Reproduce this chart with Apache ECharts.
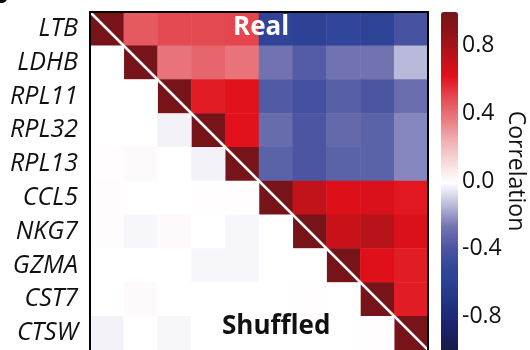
<!DOCTYPE html>
<html>
<head>
<meta charset="utf-8">
<script src="https://cdn.jsdelivr.net/npm/echarts@6/dist/echarts.min.js"></script>
<style>
  html, body { margin: 0; padding: 0; background: #fff; }
  #chart { width: 530px; height: 350px; }
</style>
</head>
<body>
<div id="chart"></div>
<script>
// Gene order (top to bottom, left to right)
const genes = ['LTB', 'LDHB', 'RPL11', 'RPL32', 'RPL13', 'CCL5', 'NKG7', 'GZMA', 'CST7', 'CTSW'];

// Upper triangle: observed correlations, row i holds columns i+1 .. 9
const realCorr = [
  [0.46, 0.50, 0.50, 0.51, -0.52, -0.55, -0.50, -0.54, -0.40],
  [0.39, 0.43, 0.39, -0.26, -0.35, -0.26, -0.26, -0.13],
  [0.60, 0.62, -0.36, -0.42, -0.34, -0.38, -0.28],
  [0.62, -0.29, -0.38, -0.30, -0.33, -0.22],
  [-0.33, -0.38, -0.33, -0.33, -0.22],
  [0.72, 0.64, 0.65, 0.61],
  [0.70, 0.75, 0.65],
  [0.63, 0.60],
  [0.60]
];

// Lower triangle: correlations after shuffling, row i holds columns 0 .. i-1
const shuffledCorr = [
  [],
  [0.00],
  [0.00, 0.00],
  [0.00, 0.00, -0.025],
  [0.005, 0.015, 0.00, -0.025],
  [0.01, 0.00, 0.00, 0.005, 0.005],
  [0.01, -0.015, 0.015, 0.00, -0.015, 0.00],
  [0.00, 0.00, 0.00, -0.015, -0.015, 0.00, 0.00],
  [0.00, 0.015, 0.00, 0.00, 0.00, 0.00, 0.005, 0.00],
  [-0.025, 0.00, -0.015, 0.00, 0.00, 0.00, 0.00, 0.00, 0.005]
];

// Self-correlation on the diagonal
const selfCorr = 1.0;

// Colour bar ticks
const colorTicks = [-0.8, -0.4, 0.0, 0.4, 0.8];

const cells = [];
genes.forEach((g, i) => {
  cells.push([i, i, selfCorr]);
  realCorr[i] && realCorr[i].forEach((v, k) => cells.push([i + 1 + k, i, v]));
  shuffledCorr[i].forEach((v, j) => cells.push([j, i, v]));
});

const n = genes.length;
const font = '"Open Sans", "Noto Sans", sans-serif';

const chart = echarts.init(document.getElementById('chart'), null, { renderer: 'canvas' });
chart.setOption({
  animation: false,
  backgroundColor: '#fff',
  grid: [
    { left: 90, top: 12, width: 338, height: 341, containLabel: false },
    { left: 441, top: 12, width: 17, height: 342, containLabel: false }
  ],
  xAxis: [
    { type: 'category', gridIndex: 0, data: genes, position: 'top', z: 5,
      axisLine: { show: true, lineStyle: { color: '#000', width: 2 } },
      axisTick: { show: false }, axisLabel: { show: false }, splitLine: { show: false } },
    { type: 'value', gridIndex: 0, min: 0, max: n, show: false },
    { type: 'category', gridIndex: 1, data: [''], show: false }
  ],
  yAxis: [
    { type: 'category', gridIndex: 0, data: genes, inverse: true, z: 5,
      axisLine: { show: true, lineStyle: { color: '#000', width: 2 } },
      axisTick: { show: false }, splitLine: { show: false },
      axisLabel: { margin: 12, fontSize: 25, fontStyle: 'italic', color: '#111', fontFamily: font } },
    { type: 'value', gridIndex: 0, min: 0, max: n, inverse: true, position: 'right', z: 5,
      axisLine: { show: true, onZero: false, lineStyle: { color: '#000', width: 2 } },
      axisTick: { show: false }, axisLabel: { show: false }, splitLine: { show: false } },
    { type: 'value', gridIndex: 1, min: -1, max: 1, position: 'right',
      axisLine: { show: false }, axisTick: { show: false }, splitLine: { show: false },
      axisLabel: { margin: 4, fontSize: 23, color: '#111', fontFamily: font,
        customValues: colorTicks, formatter: v => v.toFixed(1) } }
  ],
  visualMap: {
    type: 'continuous', min: -1, max: 1, seriesIndex: 0,
    left: 441, top: 12, itemWidth: 17, itemHeight: 342,
    calculable: false, text: null, showLabel: false, padding: 0,
    inRange: {
      color: ['#1b1a40', '#1a2062', '#1f2c7c', '#283c8e', '#30469a', '#4c56a2', '#7476b2', '#bcbcdc',
              '#ffffff', '#f8d8da', '#f0aeb2', '#e87a80', '#e44a52', '#e2101a', '#b8121a', '#8e141a', '#761419']
    }
  },
  series: [
    {
      type: 'heatmap', xAxisIndex: 0, yAxisIndex: 0, data: cells,
      itemStyle: { borderWidth: 0 }, emphasis: { disabled: true }, z: 2
    },
    {
      type: 'line', xAxisIndex: 1, yAxisIndex: 1, z: 4,
      data: [[0, 0], [n, n]], symbol: 'none', silent: true,
      lineStyle: { color: '#fff', width: 2.5 }
    }
  ],
  graphic: [
    { type: 'text', left: 233, top: 15, z: 10,
      style: { text: 'Real', fill: '#fff', fontSize: 26, fontWeight: 'bold', fontFamily: font } },
    { type: 'text', left: 222, top: 314, z: 10,
      style: { text: 'Shuffled', fill: '#111', fontSize: 26, fontWeight: 'bold', fontFamily: font } },
    { type: 'text', x: 516, y: 171, rotation: -Math.PI / 2, z: 10,
      style: { text: 'Correlation', fill: '#111', fontSize: 23, fontFamily: font,
        align: 'center', verticalAlign: 'middle' } },
    { type: 'text', x: 9, y: -5, z: 10,
      style: { text: 'b', fill: '#000', fontSize: 28, fontWeight: 'bold', fontFamily: font,
        align: 'right', verticalAlign: 'middle' } }
  ]
});
</script>
</body>
</html>
